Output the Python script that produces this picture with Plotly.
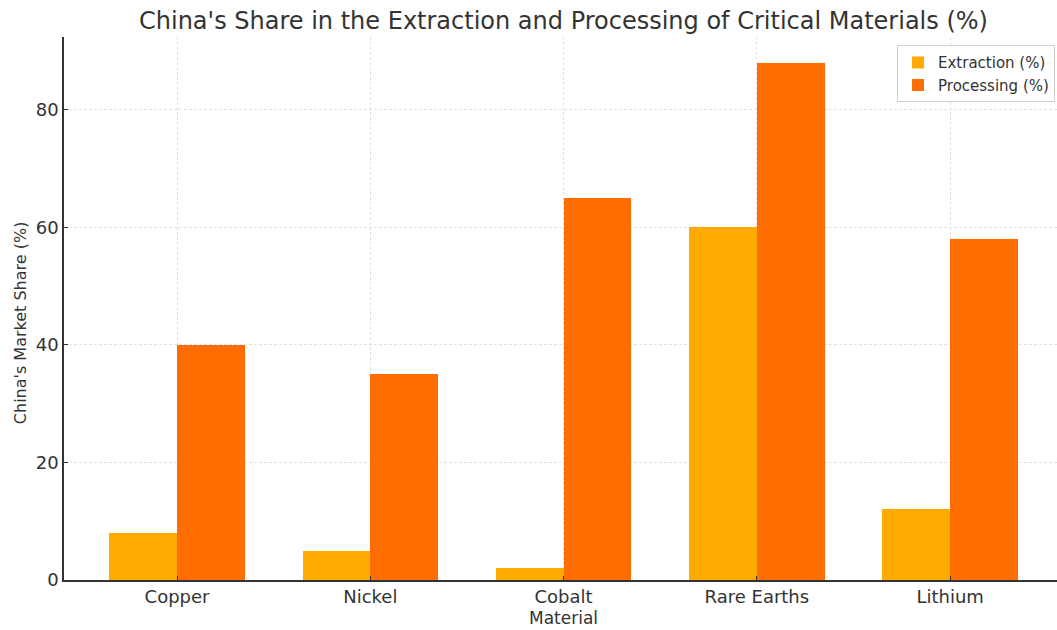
import plotly.graph_objects as go

materials = ["Copper", "Nickel", "Cobalt", "Rare Earths", "Lithium"]
extraction = [8, 5, 2, 60, 12]
processing = [40, 35, 65, 88, 58]

FONT = "DejaVu Sans"
xpos = list(range(len(materials)))
w = 0.35

fig = go.Figure()
fig.add_trace(go.Bar(x=[p - w / 2 for p in xpos], y=extraction, width=w, name="Extraction (%)",
                     marker=dict(color="#FFAA00", line=dict(width=0))))
fig.add_trace(go.Bar(x=[p + w / 2 for p in xpos], y=processing, width=w, name="Processing (%)",
                     marker=dict(color="#FF6D00", line=dict(width=0))))

GRID = dict(showgrid=True, gridcolor="#e2e2e2", griddash="3px,2px", gridwidth=1)

fig.update_layout(
    width=1057, height=630,
    margin=dict(l=64, r=0, t=37, b=50, autoexpand=False),
    paper_bgcolor="white", plot_bgcolor="white",
    font=dict(family=FONT, color="#333333", size=16),
    title=dict(text="China's Share in the Extraction and Processing of Critical Materials (%)",
               xref="paper", x=0.503, xanchor="center", y=0.968, yanchor="middle",
               font=dict(size=24, color="#333333")),
    barmode="overlay",
    bargap=0,
    showlegend=True,
    legend=dict(x=0.998, y=0.985, xanchor="right", yanchor="top",
                bgcolor="rgba(255,255,255,0.85)", bordercolor="#d0d0d0", borderwidth=1,
                font=dict(size=15, color="#333333"), itemwidth=30, tracegroupgap=1),
    xaxis=dict(
        range=[-0.585, 4.553], tickmode="array", tickvals=xpos, ticktext=materials,
        **GRID,
        showline=True, linecolor="#333333", linewidth=1.5,
        ticks="inside", ticklen=4, tickcolor="#333333",
        zeroline=False, automargin=False,
        tickfont=dict(size=18),
    ),
    yaxis=dict(
        range=[0, 92.4], tickvals=[0, 20, 40, 60, 80],
        **GRID,
        showline=True, linecolor="#333333", linewidth=1.5,
        ticks="inside", ticklen=4, tickcolor="#333333",
        zeroline=False, automargin=False,
        tickfont=dict(size=18),
    ),
    annotations=[
        dict(text="Material", xref="paper", yref="paper", x=0.503, y=-0.0699,
             yshift=0, showarrow=False, xanchor="center", yanchor="middle",
             font=dict(size=17, color="#333333")),
        dict(text="China's Market Share (%)", xref="paper", yref="paper", x=-0.0443, y=0.473,
             showarrow=False, textangle=-90, xanchor="center", yanchor="middle",
             font=dict(size=16, color="#333333")),
    ],
)

fig.write_html("out.html", post_script="document.body.style.margin='0';",
               config={"displayModeBar": False})
